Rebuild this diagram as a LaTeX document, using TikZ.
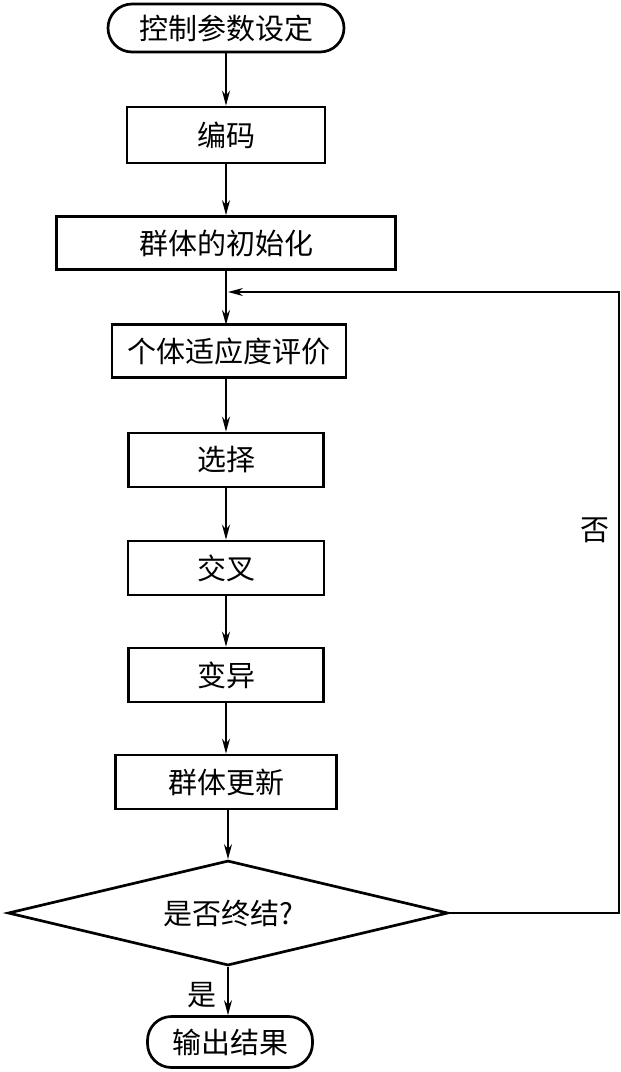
\documentclass[tikz,border=0pt]{standalone}
\usepackage{fontspec}
\newfontfamily\cjk{Noto Sans CJK SC}
\usetikzlibrary{shapes.geometric, arrows.meta}

\begin{document}
\begin{tikzpicture}[x=1pt, y=-1pt,
    every node/.style={font=\cjk\fontsize{29}{32}\selectfont},
    box/.style={draw, line width=2.7pt, minimum height=54pt},
    terminal/.style={draw, line width=2.7pt, rounded corners=24pt, minimum height=48pt},
    flow/.style={line width=1.8pt, -{Stealth[length=15pt, width=8pt]}}]

\useasboundingbox (0,0) rectangle (621,1072);

\node[terminal, minimum width=236pt] (start) at (226,28) {控制参数设定};
\node[box, minimum width=198pt, minimum height=56pt] (code) at (226,135) {编码};
\node[box, minimum width=339pt, minimum height=53pt] (init) at (226,243) {群体的初始化};
\node[box, minimum width=234pt, minimum height=53pt] (fitness) at (229,351) {个体适应度评价};
\node[box, minimum width=195pt] (select) at (226,460) {选择};
\node[box, minimum width=196pt] (cross) at (226,568) {交叉};
\node[box, minimum width=195pt] (mutate) at (226,675) {变异};
\node[box, minimum width=221pt] (update) at (226,782) {群体更新};
\node[draw, diamond, aspect=4, line width=2.7pt, minimum width=440pt, minimum height=105pt,
    inner sep=0pt] (check) at (228,913) {是否终结?};
\node[terminal, minimum width=165pt, minimum height=51pt] (finish) at (230,1042) {输出结果};

\draw[flow] (start) -- (code);
\draw[flow] (code) -- (init);
\draw[flow] (init.south -| 226,0) -- (226,325);
\draw[flow] (fitness.south -| 226,0) -- (select);
\draw[flow] (select) -- (cross);
\draw[flow] (cross) -- (mutate);
\draw[flow] (mutate) -- (update);
\draw[flow] (update.south -| 228,0) -- (check.north);
\draw[flow] (check.south) -- (check.south |- finish.north);

% feedback loop
\coordinate (back) at (619,292);
\coordinate (join) at (228,292);
\draw[line width=1.3pt, -{Stealth[length=15pt, width=8pt]}]
    (check.east) -- (check.east -| back) -- (back) -- (join);

\node (no) at (595,530) {否};
\node (yes) at (202,995) {是};

\end{tikzpicture}
\end{document}
